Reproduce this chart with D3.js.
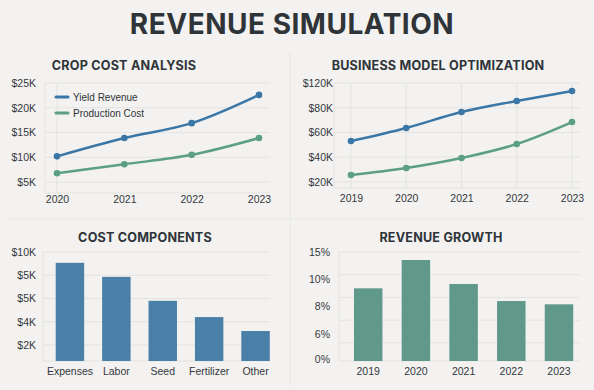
<!DOCTYPE html>
<html>
<head>
<meta charset="utf-8">
<script src="https://cdn.jsdelivr.net/npm/d3@7"></script>
<style>
  html, body { margin: 0; padding: 0; background: #f3f2f0; }
  svg { display: block; font-family: "Inter", "Liberation Sans", sans-serif; }
  .tick text { fill: #33383d; font-size: 10.5px; font-family: "Liberation Sans", Arial, sans-serif; }
</style>
</head>
<body>
<svg id="chart" width="594" height="390"></svg>
<script>
// ---- data ----
const cropYears = ["2020", "2021", "2022", "2023"];
const cropRevenue = [10.2, 13.9, 16.9, 22.6];
const cropCost = [6.8, 8.6, 10.5, 13.9];
const cropTickLabels = ["$5K", "$10K", "$15K", "$20K", "$25K"];

const bizYears = ["2019", "2020", "2021", "2022", "2023"];
const bizRevenue = [53, 63.6, 76.5, 85.4, 93.5];
const bizCost = [25.5, 31.2, 39.3, 50.6, 68.4];
const bizTickLabels = ["$20K", "$40K", "$60K", "$80K", "$120K"];

const costCategories = ["Expenses", "Labor", "Seed", "Fertilizer", "Other"];
const costValues = [9.07, 7.86, 5.8, 4.4, 3.2];
const costTickLabels = ["$2K", "$4K", "$5K", "$5K", "$10K"];

const growthYears = ["2019", "2020", "2021", "2022", "2023"];
const growthValues = [10.0, 13.9, 10.6, 8.25, 7.8];
const growthTickLabels = ["0%", "6%", "8%", "10%", "15%"];

const seriesNames = ["Yield Revenue", "Production Cost"];

const blue = "#3b77a6";
const green = "#5c9f86";
const barBlue = "#4a7fa7";
const barGreen = "#60998a";
const textColor = "#2f3439";
const gridColor = "#e4e3e1";

const svg = d3.select("#chart");

// main title
svg.append("text")
  .attr("x", 292).attr("y", 34)
  .attr("text-anchor", "middle")
  .attr("font-size", "28px")
  .attr("font-weight", "bold")
  .attr("fill", textColor)
  .attr("letter-spacing", "0.5px")
  .text("REVENUE SIMULATION");

// faint panel separators
svg.append("line").attr("x1", 290).attr("x2", 290).attr("y1", 52).attr("y2", 385)
  .attr("stroke", "#e8e7e5");
svg.append("line").attr("x1", 8).attr("x2", 586).attr("y1", 219).attr("y2", 219)
  .attr("stroke", "#e8e7e5");

const panelTitle = (x, y, txt) => {
  svg.append("text")
    .attr("x", x).attr("y", y)
    .attr("text-anchor", "middle")
    .attr("font-size", "12.6px")
    .attr("font-weight", "bold")
    .attr("letter-spacing", "0.2px")
    .attr("fill", textColor)
    .text(txt);
};

// y axis with custom labels on evenly spaced ticks
const drawYAxis = (y, tickVals, labels, labelX) => {
  svg.append("g").attr("transform", `translate(${labelX},0)`)
    .call(d3.axisLeft(y).tickValues(tickVals).tickSize(0).tickPadding(0)
      .tickFormat((d, i) => labels[i]))
    .call(s => s.select(".domain").remove());
};

const drawGrid = (y, vals, x0, x1) => {
  svg.append("g").selectAll("line")
    .data(vals).enter().append("line")
    .attr("x1", x0).attr("x2", x1)
    .attr("y1", d => y(d)).attr("y2", d => y(d))
    .attr("stroke", gridColor).attr("stroke-width", 1);
};

const drawFrame = (x0, x1, yTop, yBase) => {
  svg.append("line").attr("x1", x0).attr("x2", x0).attr("y1", yTop).attr("y2", yBase)
    .attr("stroke", gridColor);
  svg.append("line").attr("x1", x0).attr("x2", x1).attr("y1", yBase).attr("y2", yBase)
    .attr("stroke", gridColor);
};

const drawXAxis = (x, yPos) => {
  svg.append("g").attr("transform", `translate(0,${yPos})`)
    .call(d3.axisBottom(x).tickSize(0).tickPadding(0))
    .call(s => s.select(".domain").remove())
    .selectAll("text").attr("dy", "0.71em");
};

const drawLines = (x, y, cats, seriesList, colors) => {
  const line = d3.line()
    .x((d, i) => x(cats[i]))
    .y(d => y(d))
    .curve(d3.curveMonotoneX);
  seriesList.forEach((vals, k) => {
    svg.append("path").datum(vals)
      .attr("d", line)
      .attr("fill", "none")
      .attr("stroke", colors[k])
      .attr("stroke-width", 2.5);
    svg.append("g").selectAll("circle")
      .data(vals).enter().append("circle")
      .attr("cx", (d, i) => x(cats[i]))
      .attr("cy", d => y(d))
      .attr("r", 3.3)
      .attr("fill", colors[k]);
  });
};

// ---- Panel 1: Crop cost analysis ----
panelTitle(124, 70, "CROP COST ANALYSIS");
{
  const y = d3.scaleLinear().domain([2.8, 25]).range([193, 83]);
  const x = d3.scalePoint().domain(cropYears).range([57, 259]);
  drawGrid(y, [5, 10, 15, 20, 25], 45, 270);
  drawFrame(45, 270, 83, 193);
  svg.append("line").attr("x1", x(cropYears[0])).attr("x2", x(cropYears[0]))
    .attr("y1", 83).attr("y2", 193).attr("stroke", gridColor);
  drawYAxis(y, [5, 10, 15, 20, 25], cropTickLabels, 36);
  drawXAxis(x, 196);
  drawLines(x, y, cropYears, [cropRevenue, cropCost], [blue, green]);

  // legend
  const legend = svg.append("g").attr("transform", "translate(56,97)");
  const items = legend.selectAll("g").data(seriesNames).enter().append("g")
    .attr("transform", (d, i) => `translate(0,${i * 16})`);
  items.append("line")
    .attr("x1", 0).attr("x2", 12).attr("y1", 0).attr("y2", 0)
    .attr("stroke", (d, i) => [blue, green][i])
    .attr("stroke-width", 3)
    .attr("stroke-linecap", "round");
  items.append("text")
    .attr("x", 17).attr("dy", "0.35em")
    .attr("font-size", "10px")
    .attr("font-family", "'Liberation Sans', Arial, sans-serif")
    .attr("fill", textColor)
    .text(d => d);
}

// ---- Panel 2: Business model optimization ----
panelTitle(438, 70, "BUSINESS MODEL OPTIMIZATION");
{
  const y = d3.scaleLinear().domain([15, 100]).range([188, 83]);
  const x = d3.scalePoint().domain(bizYears).range([351, 572]);
  drawGrid(y, [20, 40, 60, 80, 100], 334, 580);
  svg.append("g").selectAll("line").data(bizYears).enter().append("line")
    .attr("x1", d => x(d)).attr("x2", d => x(d))
    .attr("y1", 83).attr("y2", 188)
    .attr("stroke", gridColor);
  drawFrame(334, 580, 83, 188);
  drawYAxis(y, [20, 40, 60, 80, 100], bizTickLabels, 333);
  drawXAxis(x, 195);
  drawLines(x, y, bizYears, [bizRevenue, bizCost], [blue, green]);
}

// ---- Panel 3: Cost components ----
panelTitle(145, 242, "COST COMPONENTS");
{
  const y = d3.scaleLinear().domain([0.62, 10]).range([361, 252]);
  const x = d3.scaleBand().domain(costCategories).range([49.5, 276])
    .paddingInner(0.387).paddingOuter(0.134);
  drawGrid(y, [2, 4, 6, 8, 10], 43, 270);
  drawFrame(43, 270, 252, 361);
  drawYAxis(y, [2, 4, 6, 8, 10], costTickLabels, 36);
  svg.append("g").selectAll("rect")
    .data(costValues).enter().append("rect")
    .attr("x", (d, i) => x(costCategories[i]))
    .attr("y", d => y(d))
    .attr("width", x.bandwidth())
    .attr("height", d => y(0.62) - y(d))
    .attr("fill", barBlue);
  drawXAxis(x, 368);
}

// ---- Panel 4: Revenue growth ----
panelTitle(441, 242, "REVENUE GROWTH");
{
  const y = d3.scaleLinear().domain([0, 15]).range([361, 252]);
  const x = d3.scaleBand().domain(growthYears).range([349.2, 578])
    .paddingInner(0.403).paddingOuter(0.1);
  drawGrid(y, d3.range(15, 0, -3.125), 339, 580);
  drawFrame(339, 580, 252, 361);
  drawYAxis(y, d3.range(0, 15.01, 3.75).map(v => Math.max(v, 0.3)), growthTickLabels, 330);
  svg.append("g").selectAll("rect")
    .data(growthValues).enter().append("rect")
    .attr("x", (d, i) => x(growthYears[i]))
    .attr("y", d => y(d))
    .attr("width", x.bandwidth())
    .attr("height", d => y(0) - y(d))
    .attr("fill", barGreen);
  drawXAxis(x, 368);
}
</script>
</body>
</html>
